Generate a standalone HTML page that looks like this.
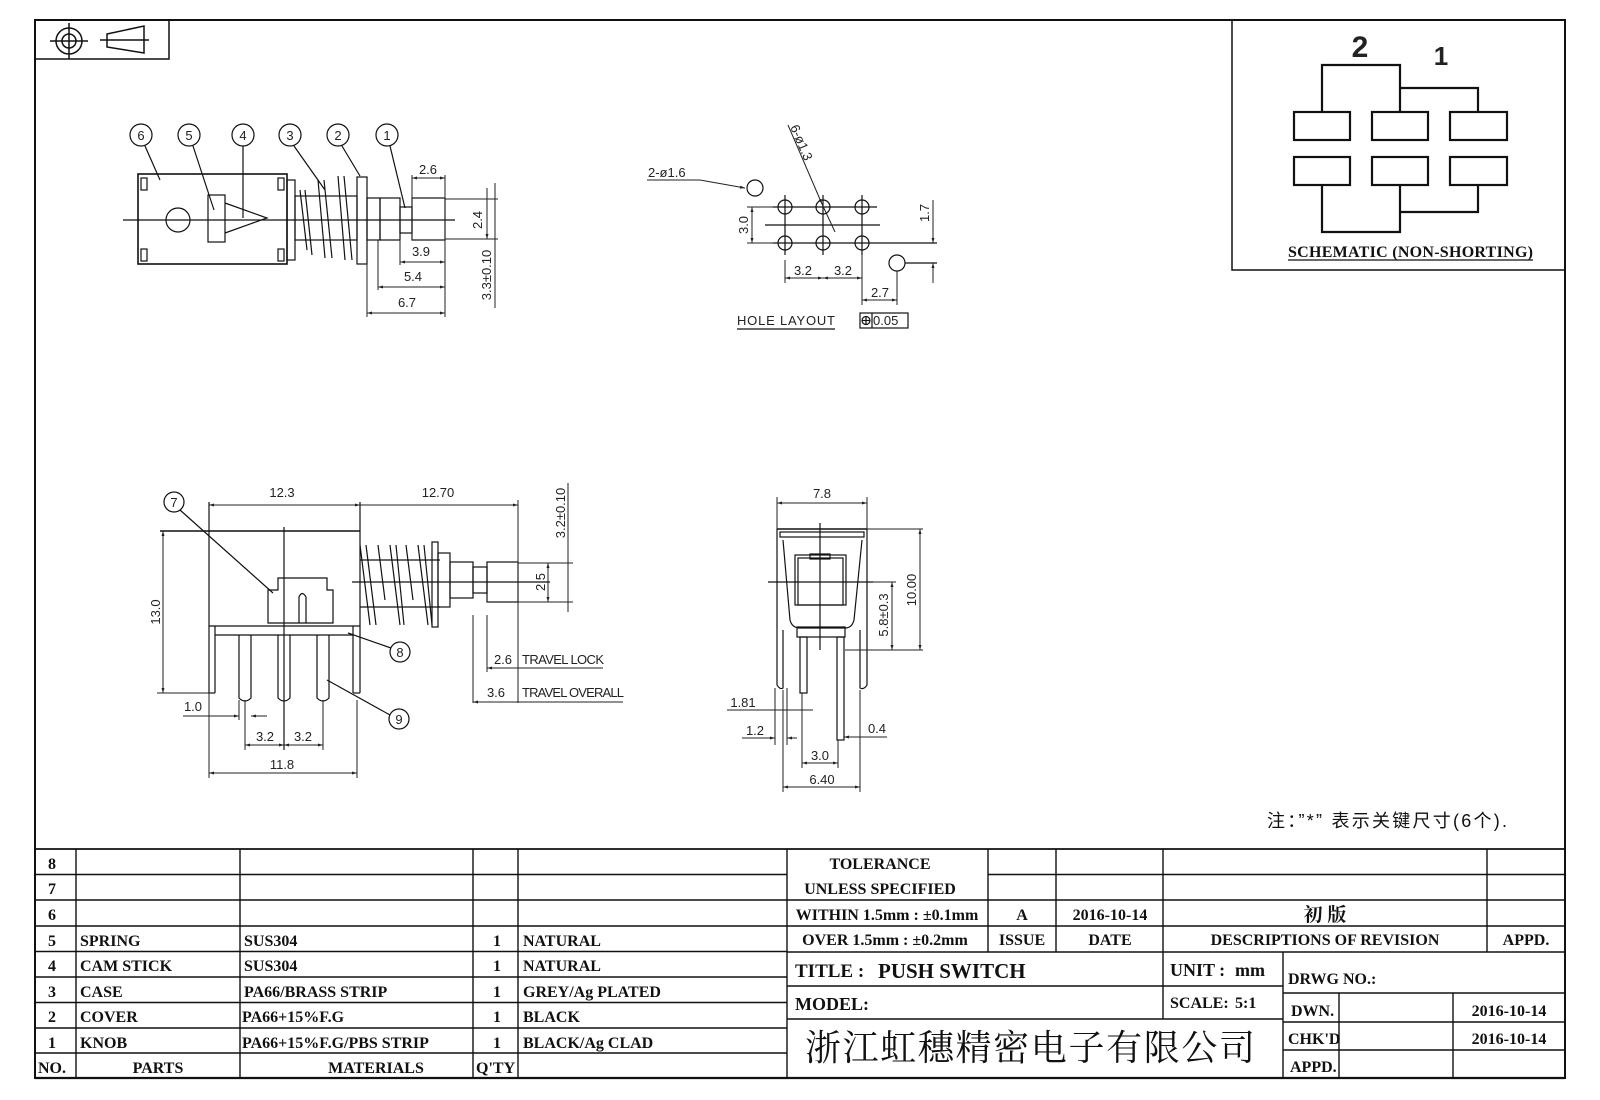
<!DOCTYPE html>
<html><head><meta charset="utf-8"><style>
html,body{margin:0;padding:0;background:#fff;}
svg{display:block;}
.t{font-family:"Liberation Serif","Noto Serif CJK SC",serif;font-weight:bold;font-size:16px;fill:#111;}
.d{font-family:"Liberation Sans",sans-serif;font-size:13px;fill:#222;}
.l{stroke:#111;stroke-width:1.5;fill:none;}
.th{stroke:#111;stroke-width:1.2;fill:none;}
.dm{stroke:#222;stroke-width:1;fill:none;}
</style></head><body>
<svg width="1600" height="1100" viewBox="0 0 1600 1100" xmlns="http://www.w3.org/2000/svg">
<defs>
<marker id="a" viewBox="0 0 10 10" refX="10" refY="5" markerWidth="7" markerHeight="5" orient="auto-start-reverse"><path d="M0,2 L10,5 L0,8 z" fill="#222"/></marker>
</defs>
<rect width="1600" height="1100" fill="#fff"/>
<rect x="35" y="20" width="1530" height="1058" fill="none" stroke="#111" stroke-width="2"/>
<rect x="35" y="20" width="134" height="39" class="l"/>
<circle cx="69" cy="41" r="13" class="l"/><circle cx="69" cy="41" r="7" class="l"/>
<line x1="50" y1="41" x2="88" y2="41" class="l"/><line x1="69" y1="23" x2="69" y2="59" class="l"/>
<path d="M107,34 L144,26 L144,53 L107,47 Z" class="l"/><line x1="100" y1="40" x2="149" y2="40" class="l"/>

<!-- schematic -->
<path d="M1232,20 V270 H1565" class="l"/>
<g stroke="#111" stroke-width="2.2" fill="none">
<rect x="1294" y="112" width="56" height="28"/><rect x="1372" y="112" width="56" height="28"/><rect x="1450" y="112" width="57" height="28"/>
<rect x="1294" y="157" width="56" height="28"/><rect x="1372" y="157" width="56" height="28"/><rect x="1450" y="157" width="57" height="28"/>
<path d="M1322,112 V65 H1400 V112"/><path d="M1400,88 H1478 V112"/>
<path d="M1322,185 V232 H1400 V185"/><path d="M1400,212 H1478 V185"/>
</g>
<text x="1360" y="57" font-family="Liberation Sans,sans-serif" font-size="30" font-weight="bold" fill="#222" text-anchor="middle">2</text>
<text x="1441" y="65" font-family="Liberation Sans,sans-serif" font-size="26" font-weight="bold" fill="#222" text-anchor="middle">1</text>
<text x="1288" y="257" class="t" font-size="17" textLength="245">SCHEMATIC (NON-SHORTING)</text>
<line x1="1288" y1="260" x2="1533" y2="260" class="th"/>

<!-- TOP LEFT DRAWING -->
<g class="th">
<line x1="123" y1="220" x2="455" y2="220"/>
<rect x="138" y="174" width="149" height="90" stroke-width="1.6"/>
<rect x="141" y="178" width="6" height="12"/><rect x="141" y="249" width="6" height="12"/>
<rect x="278" y="178" width="6" height="12"/><rect x="278" y="249" width="6" height="12"/>
<circle cx="178" cy="220" r="12"/>
<rect x="208" y="195" width="17" height="47"/>
<path d="M225,203 L267,218 L225,233"/>
<rect x="287" y="180" width="8" height="80"/>
<rect x="295" y="196" width="62" height="44"/>
<path d="M300,190 L307,250 M305,190 L312,255 M318,180 L325,258 M324,180 L332,258 M338,176 L345,260 M344,176 L352,260"/>
<rect x="357" y="177" width="10" height="87"/>
<rect x="367" y="198" width="13" height="42"/>
<rect x="380" y="198" width="20" height="42"/>
<rect x="400" y="207" width="12" height="26"/>
<rect x="412" y="198" width="33" height="42"/>
</g>
<g class="th">
<circle cx="141" cy="135" r="11"/><circle cx="189" cy="135" r="11"/><circle cx="243" cy="135" r="11"/>
<circle cx="290" cy="135" r="11"/><circle cx="338" cy="135" r="11"/><circle cx="387" cy="135" r="11"/>
<line x1="145" y1="146" x2="160" y2="180"/><line x1="193" y1="146" x2="214" y2="210"/><line x1="243" y1="146" x2="243" y2="218"/>
<line x1="294" y1="146" x2="325" y2="190"/><line x1="342" y1="146" x2="360" y2="176"/><line x1="390" y1="146" x2="405" y2="208"/>
</g>
<g class="d" text-anchor="middle" font-size="14">
<text x="141" y="140">6</text><text x="189" y="140">5</text><text x="243" y="140">4</text>
<text x="290" y="140">3</text><text x="338" y="140">2</text><text x="387" y="140">1</text>
</g>
<g class="dm">
<line x1="412" y1="175" x2="412" y2="240"/><line x1="445" y1="175" x2="445" y2="317"/>
<line x1="412" y1="178" x2="445" y2="178" marker-start="url(#a)" marker-end="url(#a)"/>
<line x1="445" y1="199" x2="498" y2="199"/><line x1="445" y1="239" x2="498" y2="239"/>
<line x1="487" y1="188" x2="487" y2="239" marker-end="url(#a)"/>
<line x1="495" y1="183" x2="495" y2="308"/>
<line x1="400" y1="240" x2="400" y2="265"/><line x1="378" y1="240" x2="378" y2="290"/><line x1="367" y1="264" x2="367" y2="317"/>
<line x1="400" y1="262" x2="445" y2="262" marker-start="url(#a)" marker-end="url(#a)"/>
<line x1="378" y1="287" x2="445" y2="287" marker-start="url(#a)" marker-end="url(#a)"/>
<line x1="367" y1="313" x2="445" y2="313" marker-start="url(#a)" marker-end="url(#a)"/>
</g>
<g class="d" text-anchor="middle">
<text x="428" y="174">2.6</text><text x="421" y="256">3.9</text><text x="413" y="281">5.4</text><text x="407" y="307">6.7</text>
<text transform="translate(482,220) rotate(-90)">2.4</text>
<text transform="translate(491,275) rotate(-90)">3.3±0.10</text>
</g>

<!-- HOLE LAYOUT -->
<g class="th">
<line x1="773" y1="207" x2="877" y2="207"/><line x1="773" y1="243" x2="937" y2="243"/><line x1="765" y1="225" x2="880" y2="225"/>
<line x1="785" y1="195" x2="785" y2="255"/><line x1="823" y1="195" x2="823" y2="255"/><line x1="862" y1="195" x2="862" y2="255"/>
<circle cx="785" cy="207" r="7"/><circle cx="823" cy="207" r="7"/><circle cx="862" cy="207" r="7"/>
<circle cx="785" cy="243" r="7"/><circle cx="823" cy="243" r="7"/><circle cx="862" cy="243" r="7"/>
<circle cx="755" cy="188" r="8"/><circle cx="897" cy="263" r="8"/>
<line x1="905" y1="263" x2="937" y2="263"/>
</g>
<g class="dm">
<path d="M647,180 L700,180 L745,188" marker-end="url(#a)"/>
<line x1="788" y1="125" x2="822" y2="204" marker-end="url(#a)"/><line x1="822" y1="204" x2="835" y2="232"/>
<line x1="747" y1="207" x2="773" y2="207"/><line x1="747" y1="243" x2="773" y2="243"/>
<line x1="752" y1="207" x2="752" y2="243" marker-start="url(#a)" marker-end="url(#a)"/>
<line x1="933" y1="200" x2="933" y2="243" marker-end="url(#a)"/><line x1="933" y1="263" x2="933" y2="283" marker-start="url(#a)"/>
<line x1="785" y1="260" x2="785" y2="283"/><line x1="862" y1="255" x2="862" y2="305"/><line x1="897" y1="271" x2="897" y2="305"/>
<line x1="785" y1="278" x2="823" y2="278" marker-start="url(#a)" marker-end="url(#a)"/>
<line x1="823" y1="278" x2="862" y2="278" marker-start="url(#a)" marker-end="url(#a)"/>
<line x1="862" y1="300" x2="897" y2="300" marker-start="url(#a)" marker-end="url(#a)"/>
</g>
<g class="d">
<text x="648" y="177">2-ø1.6</text>
<text transform="translate(790,127) rotate(67)">6-ø1.3</text>
<text transform="translate(748,225) rotate(-90)" text-anchor="middle">3.0</text>
<text transform="translate(929,213) rotate(-90)" text-anchor="middle">1.7</text>
<text x="803" y="275" text-anchor="middle">3.2</text><text x="843" y="275" text-anchor="middle">3.2</text>
<text x="880" y="297" text-anchor="middle">2.7</text>
<text x="737" y="325" textLength="98">HOLE LAYOUT</text>
<text x="873" y="325">0.05</text>
</g>
<line x1="737" y1="329" x2="835" y2="329" class="th"/>
<rect x="860" y="313" width="48" height="15" class="th"/><line x1="872" y1="313" x2="872" y2="328" class="th"/>
<circle cx="866" cy="320.5" r="4" class="th"/><line x1="862" y1="320.5" x2="870" y2="320.5" class="th"/><line x1="866" y1="316.5" x2="866" y2="324.5" class="th"/>

<!-- BOTTOM LEFT DRAWING -->
<g class="th">
<line x1="160" y1="531" x2="360" y2="531" stroke-width="1.6"/>
<line x1="209" y1="502" x2="209" y2="693"/><line x1="215" y1="626" x2="215" y2="693"/>
<line x1="360" y1="502" x2="360" y2="693"/><line x1="353" y1="626" x2="353" y2="693"/>
<line x1="209" y1="626" x2="360" y2="626"/><line x1="209" y1="693" x2="215" y2="693"/><line x1="353" y1="693" x2="360" y2="693"/>
<line x1="215" y1="635" x2="353" y2="635"/>
<path d="M239,635 V698 Q245,704 251,698 V635"/><path d="M278,635 V698 Q284,704 290,698 V635"/><path d="M317,635 V698 Q323,704 329,698 V635"/>
<path d="M278,578 H327 V590 H333 V623 H268 V590 H278 Z"/>
<path d="M299,623 V597 Q302,590 306,597 V623"/>
<path d="M360,545 L370,625 M366,545 L376,625 M378,545 L385,600 M390,545 L400,625 M396,545 L404,625 M406,545 L413,600 M418,545 L428,625 M424,545 L432,625"/>
<rect x="432" y="542" width="6" height="85"/>
<rect x="438" y="553" width="12" height="54"/>
<rect x="450" y="562" width="23" height="36"/>
<rect x="473" y="567" width="14" height="26"/>
<rect x="487" y="562" width="31" height="40"/>
<line x1="352" y1="582" x2="550" y2="582"/>
<line x1="284" y1="527" x2="284" y2="750"/>
<line x1="360" y1="560" x2="440" y2="560"/><line x1="360" y1="607" x2="440" y2="607"/>
</g>
<g class="th">
<circle cx="174" cy="502" r="10"/><circle cx="400" cy="652" r="10"/><circle cx="399" cy="719" r="10"/>
<line x1="180" y1="510" x2="273" y2="593"/><line x1="348" y1="633" x2="391" y2="648"/><line x1="327" y1="680" x2="390" y2="715"/>
</g>
<g class="d" text-anchor="middle" font-size="14"><text x="174" y="507">7</text><text x="400" y="657">8</text><text x="399" y="724">9</text></g>
<g class="dm">
<line x1="209" y1="505" x2="360" y2="505" marker-start="url(#a)" marker-end="url(#a)"/>
<line x1="360" y1="505" x2="518" y2="505" marker-end="url(#a)"/>
<line x1="518" y1="500" x2="518" y2="703"/>
<line x1="163" y1="531" x2="163" y2="693" marker-start="url(#a)" marker-end="url(#a)"/>
<line x1="157" y1="693" x2="209" y2="693"/>
<line x1="518" y1="563" x2="573" y2="563"/><line x1="518" y1="602" x2="573" y2="602"/>
<line x1="548" y1="563" x2="548" y2="602" marker-start="url(#a)" marker-end="url(#a)"/>
<line x1="568" y1="483" x2="568" y2="612"/>
<line x1="473" y1="615" x2="473" y2="703"/><line x1="487" y1="615" x2="487" y2="672"/>
<line x1="487" y1="668" x2="518" y2="668" marker-start="url(#a)"/><line x1="518" y1="668" x2="603" y2="668"/>
<line x1="473" y1="702" x2="518" y2="702" marker-start="url(#a)"/><line x1="518" y1="702" x2="623" y2="702"/>
<line x1="183" y1="716" x2="239" y2="716" marker-end="url(#a)"/><line x1="267" y1="716" x2="251" y2="716" marker-end="url(#a)"/>
<line x1="239" y1="700" x2="239" y2="720"/><line x1="245" y1="700" x2="245" y2="750"/><line x1="323" y1="700" x2="323" y2="750"/>
<line x1="245" y1="745" x2="284" y2="745" marker-start="url(#a)" marker-end="url(#a)"/>
<line x1="284" y1="745" x2="323" y2="745" marker-start="url(#a)" marker-end="url(#a)"/>
<line x1="209" y1="693" x2="209" y2="778"/><line x1="357" y1="700" x2="357" y2="778"/>
<line x1="209" y1="773" x2="357" y2="773" marker-start="url(#a)" marker-end="url(#a)"/>
</g>
<g class="d" text-anchor="middle">
<text x="282" y="497">12.3</text><text x="438" y="497">12.70</text>
<text transform="translate(160,612) rotate(-90)">13.0</text>
<text transform="translate(545,582) rotate(-90)">2.5</text>
<text transform="translate(565,513) rotate(-90)">3.2±0.10</text>
<text x="503" y="664">2.6</text><text x="496" y="697">3.6</text>
<text x="193" y="711">1.0</text><text x="265" y="741">3.2</text><text x="303" y="741">3.2</text><text x="282" y="769">11.8</text>
</g>
<text x="522" y="664" class="d" textLength="82">TRAVEL LOCK</text>
<text x="522" y="697" class="d" textLength="102">TRAVEL OVERALL</text>

<!-- BOTTOM MIDDLE DRAWING -->
<g class="th">
<line x1="777" y1="529" x2="867" y2="529" stroke-width="1.5"/>
<rect x="780" y="532" width="84" height="5"/>
<path d="M783,540 L790,620 Q792,628 800,628 L845,628 Q852,628 854,620 L862,540"/>
<rect x="798" y="558" width="45" height="47"/><rect x="795" y="555" width="51" height="50"/>
<rect x="810" y="554" width="20" height="5"/>
<rect x="797" y="627" width="48" height="10"/>
<path d="M777,627 V685 Q780,690 783,688 V630"/><path d="M860,630 V688 Q864,690 867,685 V627"/>
<line x1="777" y1="529" x2="777" y2="627"/><line x1="867" y1="529" x2="867" y2="627"/>
<rect x="800" y="637" width="7" height="56"/><rect x="837" y="637" width="7" height="103"/>
<line x1="820" y1="523" x2="820" y2="650"/><line x1="768" y1="582" x2="873" y2="582"/>
</g>
<g class="dm">
<line x1="777" y1="497" x2="777" y2="529"/><line x1="867" y1="497" x2="867" y2="529"/>
<line x1="777" y1="503" x2="867" y2="503" marker-start="url(#a)" marker-end="url(#a)"/>
<line x1="867" y1="529" x2="923" y2="529"/><line x1="845" y1="650" x2="923" y2="650"/>
<line x1="920" y1="529" x2="920" y2="650" marker-start="url(#a)" marker-end="url(#a)"/>
<line x1="873" y1="582" x2="896" y2="582"/>
<line x1="892" y1="582" x2="892" y2="650" marker-start="url(#a)" marker-end="url(#a)"/>
<line x1="727" y1="710" x2="813" y2="710"/>
<line x1="742" y1="738" x2="775" y2="738" marker-end="url(#a)"/><line x1="797" y1="738" x2="787" y2="738" marker-end="url(#a)"/>
<line x1="887" y1="737" x2="844" y2="737" marker-end="url(#a)"/>
<line x1="775" y1="688" x2="775" y2="745"/><line x1="787" y1="688" x2="787" y2="745"/>
<line x1="783" y1="690" x2="783" y2="792"/><line x1="860" y1="690" x2="860" y2="792"/>
<line x1="802" y1="693" x2="802" y2="768"/><line x1="838" y1="740" x2="838" y2="768"/>
<line x1="802" y1="763" x2="838" y2="763" marker-start="url(#a)" marker-end="url(#a)"/>
<line x1="783" y1="787" x2="860" y2="787" marker-start="url(#a)" marker-end="url(#a)"/>
</g>
<g class="d" text-anchor="middle">
<text x="822" y="498">7.8</text>
<text transform="translate(916,590) rotate(-90)">10.00</text>
<text transform="translate(888,615) rotate(-90)">5.8±0.3</text>
<text x="743" y="707">1.81</text><text x="755" y="735">1.2</text><text x="877" y="733">0.4</text>
<text x="820" y="760">3.0</text><text x="822" y="784">6.40</text>
</g>

<text x="1267" y="827" font-family="Liberation Sans,'Noto Sans CJK SC',sans-serif" font-size="18" fill="#111" textLength="240">注：”*” 表示关键尺寸(6个).</text>

<!-- TITLE BLOCK -->
<g stroke="#111" stroke-width="1.4" fill="none">
<line x1="35" y1="849" x2="1565" y2="849" stroke-width="1.8"/>
<line x1="35" y1="1078" x2="1565" y2="1078" stroke-width="2.2"/>
<path d="M35,874.5H787 M35,900H787 M35,926H787 M35,951.5H787 M35,977H787 M35,1002.5H787 M35,1028H787 M35,1053H787"/>
<path d="M76,849V1078 M240,849V1078 M473,849V1078 M518,849V1078 M787,849V1078"/>
<path d="M988,874.5H1565 M787,900H1565 M787,926H1565 M787,952H1565"/>
<path d="M988,849V952 M1056,849V952 M1163,849V1019 M1487,849V952"/>
<path d="M787,986H1283 M787,1019H1283 M1283,952V1078"/>
<path d="M1283,993H1565 M1283,1022H1565 M1283,1050H1565 M1339,993V1078 M1453,993V1078"/>
</g>
<g class="t">
<text x="48" y="869">8</text><text x="48" y="894">7</text><text x="48" y="920">6</text><text x="48" y="946">5</text>
<text x="48" y="971">4</text><text x="48" y="997">3</text><text x="48" y="1022">2</text><text x="48" y="1048">1</text>
<text x="38" y="1073">NO.</text>
<text x="80" y="946">SPRING</text><text x="80" y="971">CAM STICK</text><text x="80" y="997">CASE</text><text x="80" y="1022">COVER</text><text x="80" y="1048">KNOB</text>
<text x="158" y="1073" text-anchor="middle">PARTS</text>
<text x="244" y="946">SUS304</text><text x="244" y="971">SUS304</text><text x="244" y="997">PA66/BRASS STRIP</text>
<text x="242" y="1022">PA66+15%F.G</text><text x="242" y="1048">PA66+15%F.G/PBS STRIP</text>
<text x="376" y="1073" text-anchor="middle">MATERIALS</text>
<text x="493" y="946">1</text><text x="493" y="971">1</text><text x="493" y="997">1</text><text x="493" y="1022">1</text><text x="493" y="1048">1</text>
<text x="476" y="1073">Q'TY</text>
<text x="523" y="946">NATURAL</text><text x="523" y="971">NATURAL</text><text x="523" y="997">GREY/Ag PLATED</text>
<text x="523" y="1022">BLACK</text><text x="523" y="1048">BLACK/Ag CLAD</text>

<text x="880" y="869" text-anchor="middle">TOLERANCE</text>
<text x="880" y="894" text-anchor="middle">UNLESS  SPECIFIED</text>
<text x="887" y="920" text-anchor="middle">WITHIN 1.5mm : ±0.1mm</text>
<text x="885" y="945" text-anchor="middle">OVER 1.5mm : ±0.2mm</text>
<text x="1022" y="920" text-anchor="middle">A</text><text x="1022" y="945" text-anchor="middle">ISSUE</text>
<text x="1110" y="920" text-anchor="middle">2016-10-14</text><text x="1110" y="945" text-anchor="middle">DATE</text>
<text x="1325" y="921" text-anchor="middle" font-size="19">初  版</text>
<text x="1325" y="945" text-anchor="middle">DESCRIPTIONS OF REVISION</text>
<text x="1526" y="945" text-anchor="middle">APPD.</text>
<text x="795" y="977" font-size="19">TITLE :</text>
<text x="878" y="978" font-size="21">PUSH SWITCH</text>
<text x="795" y="1010" font-size="18">MODEL:</text>
<text x="1170" y="976" font-size="18">UNIT :</text><text x="1235" y="976" font-size="18">mm</text>
<text x="1170" y="1008">SCALE:</text><text x="1235" y="1008">5:1</text>
<text x="1288" y="984">DRWG NO.:</text>
<text x="1291" y="1016">DWN.</text><text x="1288" y="1044">CHK'D</text><text x="1290" y="1072">APPD.</text>
<text x="1509" y="1016" text-anchor="middle">2016-10-14</text><text x="1509" y="1044" text-anchor="middle">2016-10-14</text>
</g>
<text x="805" y="1060" font-family="'Noto Serif CJK SC',serif" font-size="36" fill="#111" textLength="450">浙江虹穗精密电子有限公司</text>
</svg>
</body></html>
